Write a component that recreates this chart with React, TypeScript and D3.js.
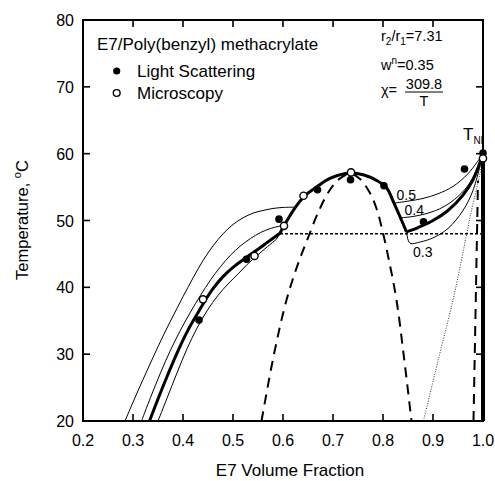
import React from "react";
import * as d3 from "d3";

type P = [number, number];

const xTicks = [0.2, 0.3, 0.4, 0.5, 0.6, 0.7, 0.8, 0.9, 1.0];
const yTicks = [20, 30, 40, 50, 60, 70, 80];

const lsPhi = [0.432, 0.527, 0.592, 0.669, 0.735, 0.802, 0.881, 0.963, 1.0];
const lsT = [35.1, 44.2, 50.2, 54.6, 56.1, 55.2, 49.8, 57.7, 60.1];
const msPhi = [0.44, 0.543, 0.602, 0.641, 0.736, 1.0];
const msT = [38.2, 44.7, 49.2, 53.7, 57.2, 59.3];

// thick binodal (w^n = 0.35)
const thickLeft: P[] = [[0.333, 20], [0.35, 23.3], [0.37, 27.0], [0.39, 30.5], [0.41, 33.6], [0.429, 36.1], [0.444, 38.0], [0.46, 39.8], [0.48, 41.6], [0.5, 43.0], [0.527, 44.5], [0.55, 45.7], [0.57, 46.8], [0.594, 48.1]];
const thickMid: P[] = [[0.594, 48.1], [0.602, 49.2], [0.625, 52.0], [0.645, 53.8], [0.667, 55.0], [0.694, 56.3], [0.734, 57.1], [0.762, 56.8], [0.787, 56.0], [0.807, 54.9], [0.822, 52.6], [0.835, 50.4], [0.847, 48.3]];
const thickRight: P[] = [[0.847, 48.3], [0.87, 48.95], [0.9, 50.0], [0.93, 51.5], [0.96, 53.8], [0.98, 56.1], [1.0, 60]];

const c05Left: P[] = [[0.284, 20], [0.3, 22.8], [0.32, 26.2], [0.34, 29.5], [0.36, 32.7], [0.38, 35.7], [0.4, 38.6], [0.42, 41.4], [0.44, 44.0], [0.46, 46.2], [0.48, 48.0], [0.5, 49.4], [0.52, 50.4], [0.54, 51.1], [0.56, 51.5], [0.58, 51.8], [0.6, 51.95], [0.625, 52.0]];
const c04Left: P[] = [[0.317, 20], [0.335, 23.5], [0.355, 27.2], [0.375, 30.6], [0.395, 33.6], [0.415, 36.3], [0.435, 38.8], [0.455, 41.1], [0.475, 43.1], [0.495, 44.8], [0.515, 46.2], [0.535, 47.3], [0.555, 48.2], [0.575, 48.8], [0.59, 49.1], [0.602, 49.2]];
const c03Left: P[] = [[0.35, 20], [0.368, 23.4], [0.388, 27.2], [0.408, 30.8], [0.428, 33.9], [0.449, 36.6], [0.47, 38.8], [0.49, 40.5], [0.51, 42.0], [0.528, 43.4], [0.547, 44.7], [0.566, 45.9], [0.587, 47.2]];
const c03Kink: P[] = [[0.587, 47.2], [0.594, 48.1]];

const c05Right: P[] = [[0.822, 52.6], [0.85, 52.9], [0.88, 53.3], [0.91, 54.0], [0.94, 55.1], [0.97, 57.0], [1.0, 60]];
const c04Right: P[] = [[0.835, 50.4], [0.86, 50.6], [0.89, 51.1], [0.92, 52.0], [0.95, 53.6], [0.975, 55.8], [1.0, 60]];
const c03Right: P[] = [[0.847, 48.3], [0.854, 46.6], [0.875, 46.8], [0.9, 47.4], [0.93, 48.8], [0.96, 51.5], [0.98, 54.5], [1.0, 60]];

const spinodal: P[] = [[0.557, 20], [0.582, 30], [0.607, 38.1], [0.63, 43.5], [0.651, 47.6], [0.672, 51.5], [0.694, 54.6], [0.714, 56.3], [0.734, 57.0], [0.754, 56.2], [0.774, 54.1], [0.787, 51.8], [0.797, 49.1], [0.812, 44], [0.827, 38.1], [0.842, 29.5], [0.857, 20]];
const nematicSpin: P[] = [[0.981, 20], [0.99, 56]];
const dottedLine: P[] = [[0.881, 20], [0.91, 29], [0.94, 38.1], [0.957, 44.1], [0.975, 50.8], [0.994, 57.1], [1.0, 60]];
const threePhase: P[] = [[0.594, 48.0], [1.0, 48.0]];
const pureLC: P[] = [[1.0, 20], [1.0, 60]];

const curveLabels = [
  { text: "0.5", phi: 0.827, T: 53.1 },
  { text: "0.4", phi: 0.843, T: 50.8 },
  { text: "0.3", phi: 0.86, T: 44.6 },
];

const W = 495, H = 481;
const FONT = "'Liberation Sans', Arial, Helvetica, sans-serif";

export default function App() {
  const x = d3.scaleLinear().domain([0.2, 1.0]).range([83, 483]);
  const y = d3.scaleLinear().domain([20, 80]).range([421, 20]);
  const smooth = d3.line<P>().x(d => x(d[0])).y(d => y(d[1])).curve(d3.curveCatmullRom.alpha(0.5));
  const straight = d3.line<P>().x(d => x(d[0])).y(d => y(d[1]));
  const tl = 7;

  return (
    <svg width={W} height={H} style={{ position: "absolute", left: 0, top: 0, background: "#fff" }} fontFamily={FONT}>
      {/* frame */}
      <rect x={x(0.2)} y={y(80)} width={x(1) - x(0.2)} height={y(20) - y(80)} fill="none" stroke="#000" strokeWidth={2} />
      {xTicks.slice(1, -1).map(t => (
        <g key={"xt" + t}>
          <line x1={x(t)} x2={x(t)} y1={y(20)} y2={y(20) - tl} stroke="#000" strokeWidth={1.6} />
          <line x1={x(t)} x2={x(t)} y1={y(80)} y2={y(80) + tl} stroke="#000" strokeWidth={1.6} />
        </g>
      ))}
      {yTicks.slice(1, -1).map(t => (
        <g key={"yt" + t}>
          <line x1={x(0.2)} x2={x(0.2) + tl} y1={y(t)} y2={y(t)} stroke="#000" strokeWidth={1.6} />
          <line x1={x(1)} x2={x(1) - tl} y1={y(t)} y2={y(t)} stroke="#000" strokeWidth={1.6} />
        </g>
      ))}
      {xTicks.map(t => (
        <text key={"xl" + t} x={x(t)} y={446} fontSize={16} textAnchor="middle">{t.toFixed(1)}</text>
      ))}
      {yTicks.map(t => (
        <text key={"yl" + t} x={74} y={y(t) + 6} fontSize={16} textAnchor="end">{t}</text>
      ))}
      <text x={290} y={476} fontSize={17} textAnchor="middle">E7 Volume Fraction</text>
      <text transform={`translate(28,220) rotate(-90)`} fontSize={16.5} textAnchor="middle">
        Temperature, <tspan fontSize={11} dy={-7}>o</tspan><tspan dy={7}>C</tspan>
      </text>

      {/* curves */}
      <path d={straight(threePhase) || ""} fill="none" stroke="#000" strokeWidth={1.5} strokeDasharray="3,2" />
      <path d={smooth(spinodal) || ""} fill="none" stroke="#000" strokeWidth={2} strokeDasharray="10,7" />
      <path d={straight(nematicSpin) || ""} fill="none" stroke="#000" strokeWidth={2} strokeDasharray="10,7" />
      <path d={smooth(dottedLine) || ""} fill="none" stroke="#000" strokeWidth={0.8} strokeDasharray="1,1.5" />
      {[c05Left, c04Left, c03Left, c05Right, c04Right, c03Right].map((c, i) => (
        <path key={"tc" + i} d={smooth(c) || ""} fill="none" stroke="#000" strokeWidth={1} />
      ))}
      <path d={straight(c03Kink) || ""} fill="none" stroke="#000" strokeWidth={1} />
      {[thickLeft, thickMid, thickRight].map((c, i) => (
        <path key={"th" + i} d={smooth(c) || ""} fill="none" stroke="#000" strokeWidth={3} strokeLinejoin="round" />
      ))}
      <path d={straight(pureLC) || ""} fill="none" stroke="#000" strokeWidth={4} />

      {/* data points */}
      {lsPhi.map((p, i) => (
        <circle key={"ls" + i} cx={x(p)} cy={y(lsT[i])} r={3.8} fill="#000" />
      ))}
      {msPhi.map((p, i) => (
        <circle key={"ms" + i} cx={x(p)} cy={y(msT[i])} r={3.6} fill="#fff" stroke="#000" strokeWidth={1.4} />
      ))}

      {/* curve labels */}
      {curveLabels.map(l => (
        <text key={l.text} x={x(l.phi)} y={y(l.T)} fontSize={14}>{l.text}</text>
      ))}
      <text x={463} y={140} fontSize={17}>T<tspan fontSize={10} dy={4}>NI</tspan></text>

      {/* legend */}
      <text x={97} y={49.5} fontSize={17}>E7/Poly(benzyl) methacrylate</text>
      <circle cx={116.7} cy={71} r={3.6} fill="#000" />
      <text x={137} y={76.5} fontSize={17}>Light Scattering</text>
      <circle cx={116.7} cy={93} r={3.4} fill="#fff" stroke="#000" strokeWidth={1.4} />
      <text x={137} y={98.5} fontSize={17}>Microscopy</text>

      {/* parameters */}
      <text x={381} y={41} fontSize={14.5}>r<tspan fontSize={10} dy={4}>2</tspan><tspan dy={-4}>/r</tspan><tspan fontSize={10} dy={4}>1</tspan><tspan dy={-4}>=7.31</tspan></text>
      <text x={381} y={70} fontSize={14.5}>w<tspan fontSize={10} dy={-6}>n</tspan><tspan dy={6}>=0.35</tspan></text>
      <text x={381} y={95} fontSize={14.5}>χ=</text>
      <text x={424} y={89} fontSize={14.5} textAnchor="middle">309.8</text>
      <line x1={405} x2={443} y1={92} y2={92} stroke="#000" strokeWidth={1} />
      <text x={424} y={106} fontSize={14.5} textAnchor="middle">T</text>
    </svg>
  );
}
